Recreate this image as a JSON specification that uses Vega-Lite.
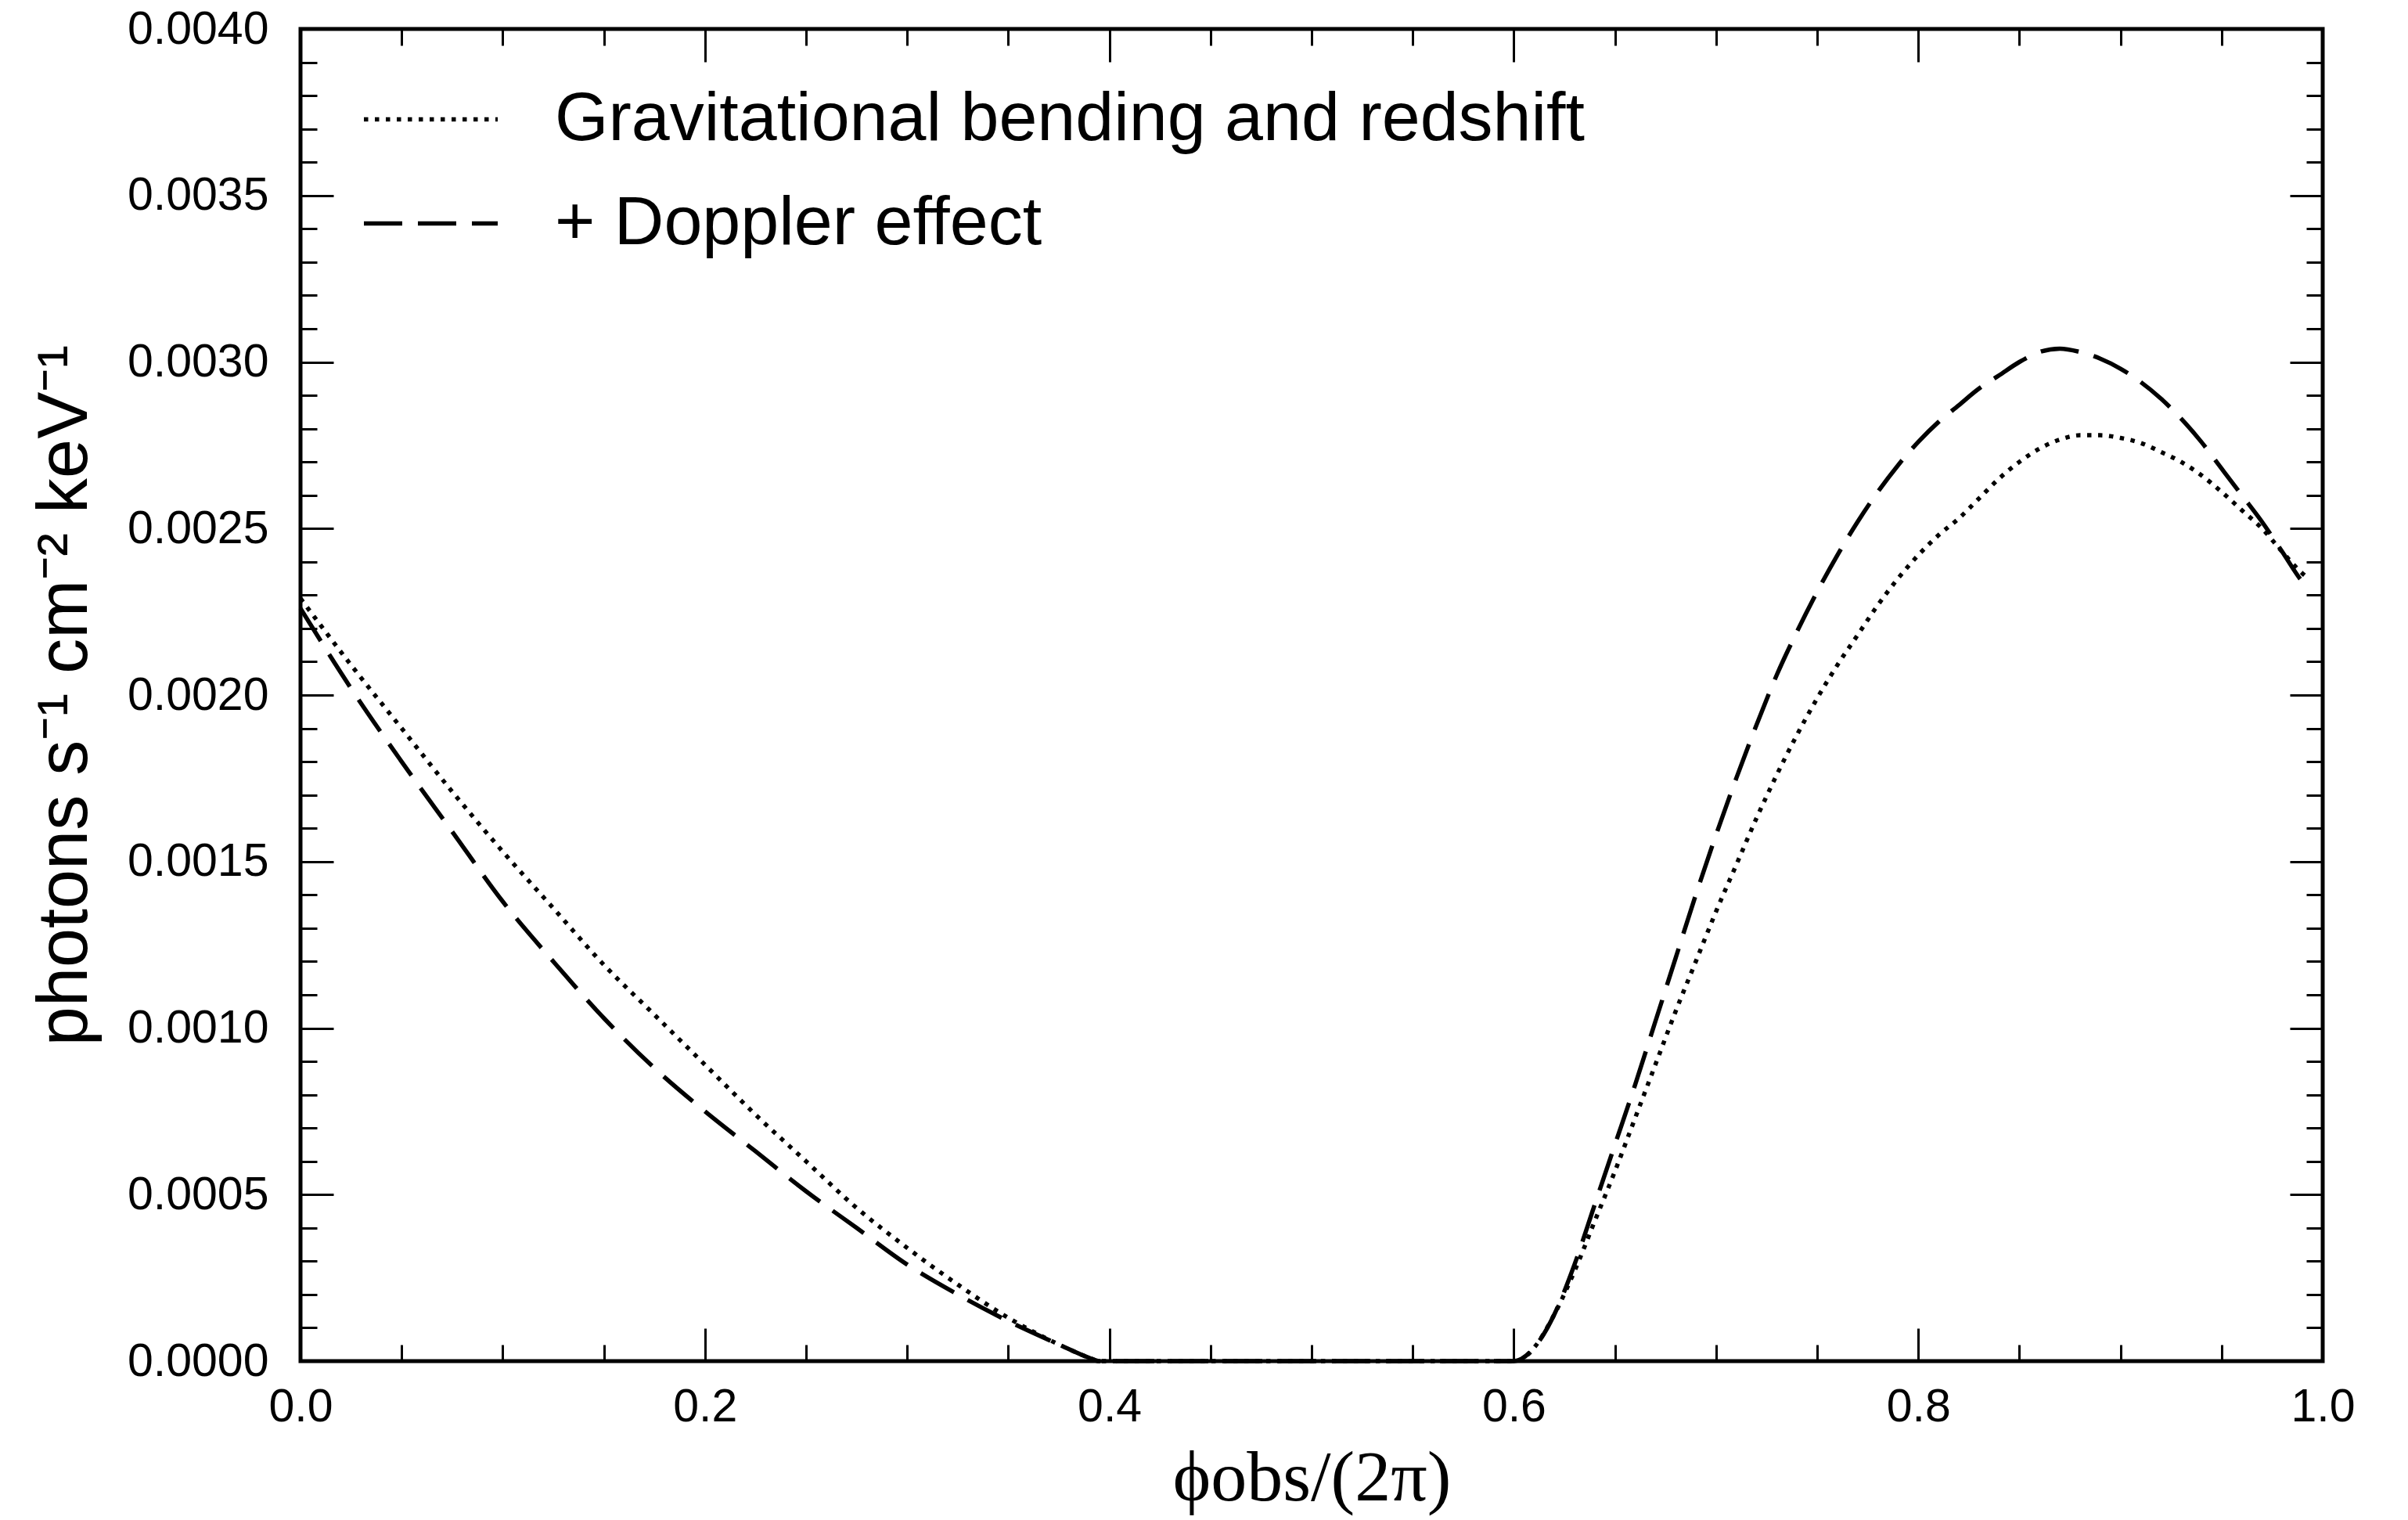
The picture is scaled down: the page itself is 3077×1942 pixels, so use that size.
{
  "$schema": "https://vega.github.io/schema/vega-lite/v6.json",
  "width": 2584,
  "height": 1702,
  "autosize": {"type": "none"},
  "padding": {"left": 384, "top": 37, "right": 109, "bottom": 203},
  "background": "white",
  "config": {
    "view": {"stroke": "black", "strokeWidth": 5},
    "axis": {"domain": false, "grid": false, "labelFont": "Liberation Sans", "labelColor": "black", "tickColor": "black", "tickWidth": 3, "labelOverlap": false, "labelBound": false, "labelFlush": false, "labelLimit": 0, "titleColor": "black", "titleLimit": 0}
  },
  "data": {"values": [
    {"phase": 0, "flux": 0.00229, "series": "Gravitational bending and redshift"},
    {"phase": 0.025, "flux": 0.00209, "series": "Gravitational bending and redshift"},
    {"phase": 0.05, "flux": 0.0019, "series": "Gravitational bending and redshift"},
    {"phase": 0.075, "flux": 0.00171, "series": "Gravitational bending and redshift"},
    {"phase": 0.1, "flux": 0.00153, "series": "Gravitational bending and redshift"},
    {"phase": 0.125, "flux": 0.00136, "series": "Gravitational bending and redshift"},
    {"phase": 0.15, "flux": 0.00119, "series": "Gravitational bending and redshift"},
    {"phase": 0.175, "flux": 0.00104, "series": "Gravitational bending and redshift"},
    {"phase": 0.2, "flux": 0.00089, "series": "Gravitational bending and redshift"},
    {"phase": 0.225, "flux": 0.00074, "series": "Gravitational bending and redshift"},
    {"phase": 0.25, "flux": 0.0006, "series": "Gravitational bending and redshift"},
    {"phase": 0.275, "flux": 0.00046, "series": "Gravitational bending and redshift"},
    {"phase": 0.3, "flux": 0.00034, "series": "Gravitational bending and redshift"},
    {"phase": 0.325, "flux": 0.00023, "series": "Gravitational bending and redshift"},
    {"phase": 0.35, "flux": 0.00013, "series": "Gravitational bending and redshift"},
    {"phase": 0.375, "flux": 0.00005, "series": "Gravitational bending and redshift"},
    {"phase": 0.39, "flux": 0.00001, "series": "Gravitational bending and redshift"},
    {"phase": 0.395, "flux": 0, "series": "Gravitational bending and redshift"},
    {"phase": 0.6, "flux": 0, "series": "Gravitational bending and redshift"},
    {"phase": 0.605, "flux": 0.00001, "series": "Gravitational bending and redshift"},
    {"phase": 0.61, "flux": 0.00004, "series": "Gravitational bending and redshift"},
    {"phase": 0.62, "flux": 0.00014, "series": "Gravitational bending and redshift"},
    {"phase": 0.63, "flux": 0.00027, "series": "Gravitational bending and redshift"},
    {"phase": 0.64, "flux": 0.00042, "series": "Gravitational bending and redshift"},
    {"phase": 0.65, "flux": 0.00057, "series": "Gravitational bending and redshift"},
    {"phase": 0.66, "flux": 0.00073, "series": "Gravitational bending and redshift"},
    {"phase": 0.67, "flux": 0.00089, "series": "Gravitational bending and redshift"},
    {"phase": 0.68, "flux": 0.00105, "series": "Gravitational bending and redshift"},
    {"phase": 0.69, "flux": 0.0012, "series": "Gravitational bending and redshift"},
    {"phase": 0.7, "flux": 0.00135, "series": "Gravitational bending and redshift"},
    {"phase": 0.71, "flux": 0.00149, "series": "Gravitational bending and redshift"},
    {"phase": 0.72, "flux": 0.00163, "series": "Gravitational bending and redshift"},
    {"phase": 0.73, "flux": 0.00176, "series": "Gravitational bending and redshift"},
    {"phase": 0.74, "flux": 0.00188, "series": "Gravitational bending and redshift"},
    {"phase": 0.75, "flux": 0.00199, "series": "Gravitational bending and redshift"},
    {"phase": 0.76, "flux": 0.00209, "series": "Gravitational bending and redshift"},
    {"phase": 0.77, "flux": 0.00218, "series": "Gravitational bending and redshift"},
    {"phase": 0.78, "flux": 0.00227, "series": "Gravitational bending and redshift"},
    {"phase": 0.79, "flux": 0.00235, "series": "Gravitational bending and redshift"},
    {"phase": 0.8, "flux": 0.00242, "series": "Gravitational bending and redshift"},
    {"phase": 0.81, "flux": 0.00248, "series": "Gravitational bending and redshift"},
    {"phase": 0.82, "flux": 0.00253, "series": "Gravitational bending and redshift"},
    {"phase": 0.83, "flux": 0.00259, "series": "Gravitational bending and redshift"},
    {"phase": 0.84, "flux": 0.00265, "series": "Gravitational bending and redshift"},
    {"phase": 0.85, "flux": 0.0027, "series": "Gravitational bending and redshift"},
    {"phase": 0.86, "flux": 0.00274, "series": "Gravitational bending and redshift"},
    {"phase": 0.87, "flux": 0.002767, "series": "Gravitational bending and redshift"},
    {"phase": 0.88, "flux": 0.00278, "series": "Gravitational bending and redshift"},
    {"phase": 0.89, "flux": 0.00278, "series": "Gravitational bending and redshift"},
    {"phase": 0.9, "flux": 0.002772, "series": "Gravitational bending and redshift"},
    {"phase": 0.91, "flux": 0.002757, "series": "Gravitational bending and redshift"},
    {"phase": 0.92, "flux": 0.00273, "series": "Gravitational bending and redshift"},
    {"phase": 0.93, "flux": 0.0027, "series": "Gravitational bending and redshift"},
    {"phase": 0.94, "flux": 0.00266, "series": "Gravitational bending and redshift"},
    {"phase": 0.95, "flux": 0.00261, "series": "Gravitational bending and redshift"},
    {"phase": 0.96, "flux": 0.002555, "series": "Gravitational bending and redshift"},
    {"phase": 0.97, "flux": 0.0025, "series": "Gravitational bending and redshift"},
    {"phase": 0.98, "flux": 0.00243, "series": "Gravitational bending and redshift"},
    {"phase": 0.99, "flux": 0.002365, "series": "Gravitational bending and redshift"},
    {"phase": 0.993, "flux": 0.00235, "series": "Gravitational bending and redshift"},
    {"phase": 0, "flux": 0.00226, "series": "+ Doppler effect"},
    {"phase": 0.025, "flux": 0.00202, "series": "+ Doppler effect"},
    {"phase": 0.05, "flux": 0.0018, "series": "+ Doppler effect"},
    {"phase": 0.075, "flux": 0.00159, "series": "+ Doppler effect"},
    {"phase": 0.1, "flux": 0.00138, "series": "+ Doppler effect"},
    {"phase": 0.125, "flux": 0.0012, "series": "+ Doppler effect"},
    {"phase": 0.15, "flux": 0.00103, "series": "+ Doppler effect"},
    {"phase": 0.175, "flux": 0.00088, "series": "+ Doppler effect"},
    {"phase": 0.2, "flux": 0.00075, "series": "+ Doppler effect"},
    {"phase": 0.225, "flux": 0.00063, "series": "+ Doppler effect"},
    {"phase": 0.25, "flux": 0.00051, "series": "+ Doppler effect"},
    {"phase": 0.275, "flux": 0.0004, "series": "+ Doppler effect"},
    {"phase": 0.3, "flux": 0.00029, "series": "+ Doppler effect"},
    {"phase": 0.325, "flux": 0.0002, "series": "+ Doppler effect"},
    {"phase": 0.35, "flux": 0.00012, "series": "+ Doppler effect"},
    {"phase": 0.375, "flux": 0.00005, "series": "+ Doppler effect"},
    {"phase": 0.39, "flux": 0.00001, "series": "+ Doppler effect"},
    {"phase": 0.395, "flux": 0, "series": "+ Doppler effect"},
    {"phase": 0.6, "flux": 0, "series": "+ Doppler effect"},
    {"phase": 0.61, "flux": 0.00004, "series": "+ Doppler effect"},
    {"phase": 0.62, "flux": 0.00014, "series": "+ Doppler effect"},
    {"phase": 0.63, "flux": 0.00029, "series": "+ Doppler effect"},
    {"phase": 0.64, "flux": 0.00047, "series": "+ Doppler effect"},
    {"phase": 0.65, "flux": 0.00065, "series": "+ Doppler effect"},
    {"phase": 0.66, "flux": 0.00083, "series": "+ Doppler effect"},
    {"phase": 0.67, "flux": 0.00102, "series": "+ Doppler effect"},
    {"phase": 0.68, "flux": 0.00121, "series": "+ Doppler effect"},
    {"phase": 0.69, "flux": 0.0014, "series": "+ Doppler effect"},
    {"phase": 0.7, "flux": 0.00158, "series": "+ Doppler effect"},
    {"phase": 0.71, "flux": 0.00175, "series": "+ Doppler effect"},
    {"phase": 0.72, "flux": 0.00191, "series": "+ Doppler effect"},
    {"phase": 0.73, "flux": 0.00206, "series": "+ Doppler effect"},
    {"phase": 0.74, "flux": 0.00219, "series": "+ Doppler effect"},
    {"phase": 0.75, "flux": 0.00231, "series": "+ Doppler effect"},
    {"phase": 0.76, "flux": 0.00242, "series": "+ Doppler effect"},
    {"phase": 0.77, "flux": 0.00252, "series": "+ Doppler effect"},
    {"phase": 0.78, "flux": 0.00261, "series": "+ Doppler effect"},
    {"phase": 0.79, "flux": 0.00269, "series": "+ Doppler effect"},
    {"phase": 0.8, "flux": 0.00276, "series": "+ Doppler effect"},
    {"phase": 0.81, "flux": 0.00282, "series": "+ Doppler effect"},
    {"phase": 0.82, "flux": 0.00287, "series": "+ Doppler effect"},
    {"phase": 0.83, "flux": 0.00292, "series": "+ Doppler effect"},
    {"phase": 0.84, "flux": 0.00296, "series": "+ Doppler effect"},
    {"phase": 0.85, "flux": 0.003, "series": "+ Doppler effect"},
    {"phase": 0.86, "flux": 0.00303, "series": "+ Doppler effect"},
    {"phase": 0.87, "flux": 0.00304, "series": "+ Doppler effect"},
    {"phase": 0.88, "flux": 0.00303, "series": "+ Doppler effect"},
    {"phase": 0.89, "flux": 0.00301, "series": "+ Doppler effect"},
    {"phase": 0.9, "flux": 0.00298, "series": "+ Doppler effect"},
    {"phase": 0.91, "flux": 0.00294, "series": "+ Doppler effect"},
    {"phase": 0.92, "flux": 0.00289, "series": "+ Doppler effect"},
    {"phase": 0.93, "flux": 0.00283, "series": "+ Doppler effect"},
    {"phase": 0.94, "flux": 0.00276, "series": "+ Doppler effect"},
    {"phase": 0.95, "flux": 0.00268, "series": "+ Doppler effect"},
    {"phase": 0.96, "flux": 0.0026, "series": "+ Doppler effect"},
    {"phase": 0.97, "flux": 0.00252, "series": "+ Doppler effect"},
    {"phase": 0.98, "flux": 0.00243, "series": "+ Doppler effect"},
    {"phase": 0.99, "flux": 0.00234, "series": "+ Doppler effect"},
    {"phase": 0.993, "flux": 0.00232, "series": "+ Doppler effect"}
  ]},
  "resolve": {"axis": {"x": "independent", "y": "independent"}},
  "layer": [
    {
      "mark": {"type": "line", "color": "black", "strokeWidth": 5.5, "strokeCap": "butt", "interpolate": "monotone"},
      "encoding": {
        "x": {"field": "phase", "type": "quantitative", "scale": {"domain": [0, 1], "nice": false},
          "axis": {"orient": "bottom", "values": [0, 0.2, 0.4, 0.6, 0.8, 1.0], "format": ".1f", "ticks": false, "labelFontSize": 59, "labelPadding": 29,
            "title": "ϕobs/(2π)", "titleFont": "Liberation Serif", "titleFontSize": 92, "titleFontWeight": "normal", "titlePadding": 16}},
        "y": {"field": "flux", "type": "quantitative", "scale": {"domain": [0, 0.004], "nice": false, "zero": true},
          "axis": {"orient": "left", "values": [0, 0.0005, 0.001, 0.0015, 0.002, 0.0025, 0.003, 0.0035, 0.004], "format": ".4f", "ticks": false, "labelFontSize": 59, "labelPadding": 41,
            "title": "photons s⁻¹ cm⁻² keV⁻¹", "titleFont": "Liberation Sans", "titleFontSize": 90, "titleFontWeight": "normal", "titlePadding": 55}},
        "strokeDash": {"field": "series", "type": "nominal",
          "scale": {"domain": ["Gravitational bending and redshift", "+ Doppler effect"], "range": [[5.5, 8.5], [49, 20]]},
          "legend": {"orient": "none", "legendX": 78, "legendY": 27, "title": null, "symbolType": "stroke", "symbolSize": 29241, "symbolStrokeWidth": 5.5, "symbolStrokeColor": "black",
            "labelFont": "Liberation Sans", "labelFontSize": 88, "labelColor": "black", "labelOffset": 70, "labelLimit": 0, "rowPadding": -12, "padding": 0}}
      }
    },
    {
      "mark": {"type": "line", "strokeOpacity": 0},
      "encoding": {
        "x": {"field": "phase", "type": "quantitative", "axis": {"orient": "bottom", "values": [0, 0.2, 0.4, 0.6, 0.8, 1.0], "labels": false, "tickSize": -42, "title": null}},
        "y": {"field": "flux", "type": "quantitative", "axis": {"orient": "left", "values": [0, 0.0005, 0.001, 0.0015, 0.002, 0.0025, 0.003, 0.0035, 0.004], "labels": false, "tickSize": -42, "title": null}}
      }
    },
    {
      "mark": {"type": "line", "strokeOpacity": 0},
      "encoding": {
        "x": {"field": "phase", "type": "quantitative", "axis": {"orient": "top", "values": [0, 0.2, 0.4, 0.6, 0.8, 1.0], "labels": false, "tickSize": -42, "title": null}},
        "y": {"field": "flux", "type": "quantitative", "axis": {"orient": "right", "values": [0, 0.0005, 0.001, 0.0015, 0.002, 0.0025, 0.003, 0.0035, 0.004], "labels": false, "tickSize": -42, "title": null}}
      }
    },
    {
      "mark": {"type": "line", "strokeOpacity": 0},
      "encoding": {
        "x": {"field": "phase", "type": "quantitative", "axis": {"orient": "bottom", "values": [0.05, 0.1, 0.15, 0.25, 0.3, 0.35, 0.45, 0.5, 0.55, 0.65, 0.7, 0.75, 0.85, 0.9, 0.95], "labels": false, "tickSize": -21, "title": null}},
        "y": {"field": "flux", "type": "quantitative", "axis": {"orient": "left", "values": [0.0001, 0.0002, 0.0003, 0.0004, 0.0006, 0.0007, 0.0008, 0.0009, 0.0011, 0.0012, 0.0013, 0.0014, 0.0016, 0.0017, 0.0018, 0.0019, 0.0021, 0.0022, 0.0023, 0.0024, 0.0026, 0.0027, 0.0028, 0.0029, 0.0031, 0.0032, 0.0033, 0.0034, 0.0036, 0.0037, 0.0038, 0.0039], "labels": false, "tickSize": -21, "title": null}}
      }
    },
    {
      "mark": {"type": "line", "strokeOpacity": 0},
      "encoding": {
        "x": {"field": "phase", "type": "quantitative", "axis": {"orient": "top", "values": [0.05, 0.1, 0.15, 0.25, 0.3, 0.35, 0.45, 0.5, 0.55, 0.65, 0.7, 0.75, 0.85, 0.9, 0.95], "labels": false, "tickSize": -21, "title": null}},
        "y": {"field": "flux", "type": "quantitative", "axis": {"orient": "right", "values": [0.0001, 0.0002, 0.0003, 0.0004, 0.0006, 0.0007, 0.0008, 0.0009, 0.0011, 0.0012, 0.0013, 0.0014, 0.0016, 0.0017, 0.0018, 0.0019, 0.0021, 0.0022, 0.0023, 0.0024, 0.0026, 0.0027, 0.0028, 0.0029, 0.0031, 0.0032, 0.0033, 0.0034, 0.0036, 0.0037, 0.0038, 0.0039], "labels": false, "tickSize": -21, "title": null}}
      }
    }
  ]
}
